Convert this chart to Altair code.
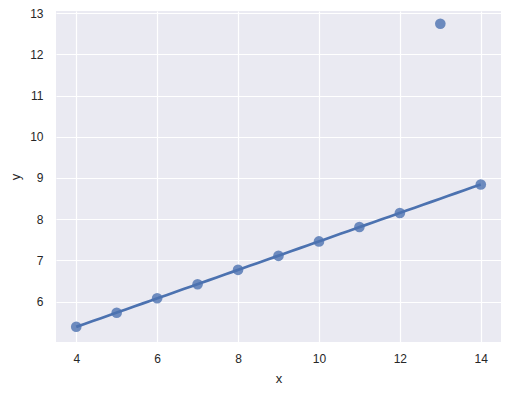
import altair as alt
import numpy as np
import pandas as pd

# Anscombe's quartet, dataset III
x_vals = [10, 8, 13, 9, 11, 14, 6, 4, 12, 7, 5]
y_vals = [7.46, 6.77, 12.74, 7.11, 7.81, 8.84, 6.08, 5.39, 8.15, 6.42, 5.73]
x_ticks = [4, 6, 8, 10, 12, 14]
y_ticks = [6, 7, 8, 9, 10, 11, 12, 13]

# robust (Huber IRLS) linear fit, like seaborn's robust=True
xa = np.array(x_vals, float)
ya = np.array(y_vals, float)
X = np.column_stack([np.ones_like(xa), xa])
beta = np.linalg.lstsq(X, ya, rcond=None)[0]
for _ in range(100):
    r = ya - X @ beta
    s = np.median(np.abs(r - np.median(r))) / 0.6745
    s = max(s, 1e-8)
    u = np.abs(r / s)
    w = np.where(u <= 1.345, 1.0, 1.345 / np.maximum(u, 1e-12))
    W = np.sqrt(w)
    beta = np.linalg.lstsq(X * W[:, None], ya * W, rcond=None)[0]
fit_x = np.linspace(xa.min(), xa.max(), 50)
fit_y = beta[0] + beta[1] * fit_x

pts = pd.DataFrame({"x": x_vals, "y": y_vals})
fit = pd.DataFrame({"x": fit_x, "y": fit_y})

blue = "#4c72b0"
xs = alt.Scale(domain=[3.5, 14.5], nice=False, zero=False)
ys = alt.Scale(domain=[5.02, 13.05], nice=False, zero=False)
xax = alt.Axis(values=x_ticks, title="x", grid=True, domain=False, ticks=False,
               labelPadding=11, titlePadding=8)
yax = alt.Axis(values=y_ticks, title="y", grid=True, domain=False, ticks=False,
               labelPadding=13, titlePadding=7)

points = alt.Chart(pts).mark_circle(size=113, color=blue, opacity=0.8).encode(
    x=alt.X("x:Q", scale=xs, axis=xax),
    y=alt.Y("y:Q", scale=ys, axis=yax),
)
line = alt.Chart(fit).mark_line(color=blue, strokeWidth=2.7).encode(
    x=alt.X("x:Q", scale=xs),
    y=alt.Y("y:Q", scale=ys),
)

chart = alt.layer(points, line).properties(
    width=445, height=331,
    autosize=alt.AutoSizeParams(type="none"),
    padding={"left": 48, "top": 3, "right": 0, "bottom": 45},
).configure_view(
    fill="#eaeaf2", stroke=None
).configure_axis(
    gridColor="white", gridWidth=1.2,
    labelFont="Liberation Sans", labelFontSize=12, labelColor="#262626",
    titleFont="Liberation Sans", titleFontSize=13, titleColor="#262626",
    titleFontWeight="normal",
)

chart.save("out.html", embed_options={"renderer": "svg", "actions": False})
